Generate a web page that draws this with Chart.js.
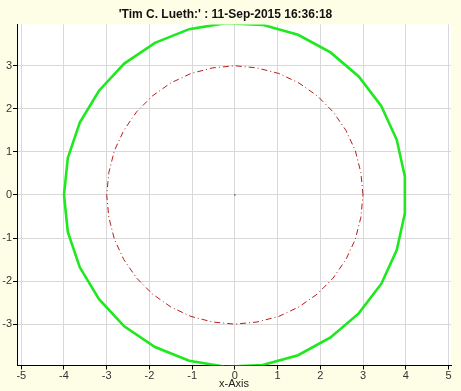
<!DOCTYPE html>
<html>
<head>
<meta charset="utf-8">
<script src="https://cdn.jsdelivr.net/npm/chart.js@4"></script>
<style>
  html, body { margin: 0; padding: 0; background: #fefee6; }
  #wrap { width: 461px; height: 391px; position: relative; }
</style>
</head>
<body>
<div id="wrap"><canvas id="circleChart"></canvas></div>
<script>
// outer contour (green), vertices
const greenX = [3.98, 3.79, 3.43, 2.90, 2.24, 1.48, 0.65, -0.22, -1.07, -1.87, -2.59, -3.18, -3.63, -3.91, -4.00,
  -3.91, -3.63, -3.18, -2.59, -1.87, -1.07, -0.22, 0.65, 1.48, 2.24, 2.90, 3.43, 3.79, 3.98, 3.98];
const greenY = [0.43, 1.28, 2.06, 2.75, 3.31, 3.72, 3.95, 3.99, 3.85, 3.53, 3.05, 2.42, 1.68, 0.86, 0.00,
  -0.86, -1.68, -2.42, -3.05, -3.53, -3.85, -3.99, -3.95, -3.72, -3.31, -2.75, -2.06, -1.28, -0.43, 0.43];

// inner contour (red dash-dot)
const redX = [3.00, 2.95, 2.82, 2.60, 2.30, 1.93, 1.50, 1.03, 0.52, 0.00, -0.52, -1.03, -1.50, -1.93, -2.30, -2.60, -2.82, -2.95,
  -3.00, -2.95, -2.82, -2.60, -2.30, -1.93, -1.50, -1.03, -0.52, 0.00, 0.52, 1.03, 1.50, 1.93, 2.30, 2.60, 2.82, 2.95, 3.00];
const redY = [0.00, 0.52, 1.03, 1.50, 1.93, 2.30, 2.60, 2.82, 2.95, 3.00, 2.95, 2.82, 2.60, 2.30, 1.93, 1.50, 1.03, 0.52,
  0.00, -0.52, -1.03, -1.50, -1.93, -2.30, -2.60, -2.82, -2.95, -3.00, -2.95, -2.82, -2.60, -2.30, -1.93, -1.50, -1.03, -0.52, 0.00];

const centerX = [0];
const centerY = [0];

const xTicks = [-5, -4, -3, -2, -1, 0, 1, 2, 3, 4, 5];
const yTicks = [-3, -2, -1, 0, 1, 2, 3];

const titleText = "'Tim C. Lueth:' : 11-Sep-2015 16:36:18";
const xLabel = "x-Axis";

function toPoints(xs, ys) {
  return xs.map((x, i) => ({ x: x, y: ys[i] }));
}

// white plot area on the yellow figure background
const plotBg = {
  id: 'plotBg',
  beforeDraw(chart) {
    const { ctx, chartArea: a } = chart;
    ctx.save();
    ctx.fillStyle = '#ffffff';
    ctx.fillRect(a.left, a.top, a.right - a.left, a.bottom - a.top);
    ctx.restore();
  }
};

new Chart(document.getElementById("circleChart"), {
  type: 'scatter',
  data: {
    datasets: [
      {
        data: toPoints(greenX, greenY),
        showLine: true,
        borderColor: '#1ee81e',
        borderWidth: 2.6,
        pointRadius: 0,
        fill: false
      },
      {
        data: toPoints(redX, redY),
        showLine: true,
        borderColor: '#b81c1c',
        borderWidth: 1,
        borderDash: [6, 3, 1, 3],
        pointRadius: 0,
        fill: false
      },
      {
        data: toPoints(centerX, centerY),
        pointRadius: 0.8,
        pointBackgroundColor: '#7a2040',
        pointBorderWidth: 0
      }
    ]
  },
  options: {
    responsive: true,
    maintainAspectRatio: false,
    animation: false,
    layout: { padding: { left: 0, right: 10, top: 0, bottom: 0 } },
    plugins: {
      legend: { display: false },
      tooltip: { enabled: false },
      title: {
        display: true,
        text: titleText,
        color: '#111',
        font: { family: 'Liberation Sans', size: 12, weight: 'bold' },
        padding: { top: 7, bottom: 3 }
      }
    },
    scales: {
      x: {
        type: 'linear',
        min: -5.1,
        max: 5.06,
        afterBuildTicks: (s) => { s.ticks = xTicks.map(v => ({ value: v })); },
        afterFit: (s) => { s.height = 25.5; },
        border: { color: '#000', width: 1 },
        grid: { color: '#d8d8d8', tickColor: '#000', tickLength: 4, drawTicks: true },
        ticks: {
          color: '#333',
          font: { family: 'Liberation Sans', size: 11 },
          padding: 0,
          maxRotation: 0,
          autoSkip: false
        },
        title: {
          display: true,
          text: xLabel,
          color: '#222',
          font: { family: 'Liberation Sans', size: 11 },
          padding: { top: 0, bottom: 0 }
        }
      },
      y: {
        type: 'linear',
        min: -3.96,
        max: 3.96,
        afterBuildTicks: (s) => { s.ticks = yTicks.map(v => ({ value: v })); },
        afterFit: (s) => { s.width = 17; },
        border: { color: '#000', width: 1 },
        grid: { color: '#d8d8d8', tickColor: '#000', tickLength: 4, drawTicks: true },
        ticks: {
          color: '#333',
          font: { family: 'Liberation Sans', size: 11 },
          padding: 1,
          autoSkip: false
        }
      }
    }
  },
  plugins: [plotBg]
});
</script>
</body>
</html>
